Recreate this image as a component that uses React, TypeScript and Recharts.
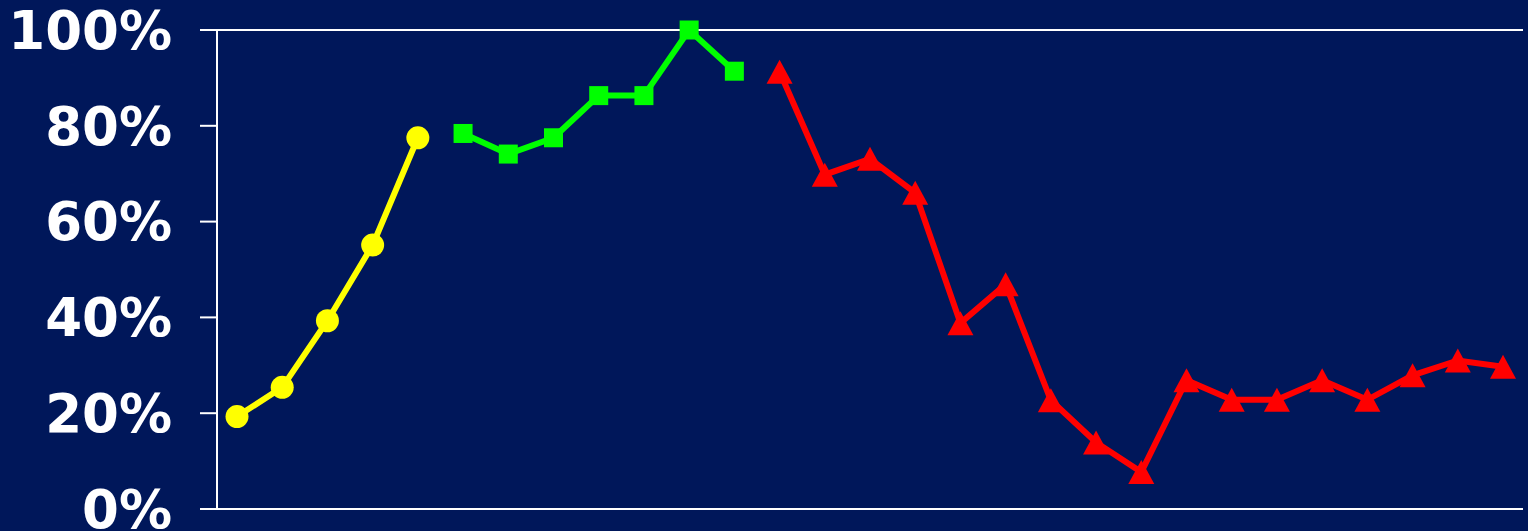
import React from "react";
import { LineChart, Line, XAxis, YAxis, CartesianGrid } from "recharts";

const categories = Array.from({ length: 29 }, (_, i) => String(i + 1));
const yellowValues: (number | null)[] = [19.3, 25.4, 39.3, 55.1, 77.5];
const greenValues: (number | null)[] = [78.4, 74.1, 77.5, 86.3, 86.3, 100, 91.4];
const redValues: (number | null)[] = [
  91.3, 69.8, 73.1, 66.0, 38.8, 46.9, 22.7, 13.9, 7.7, 26.9, 22.8, 22.8, 26.9, 22.8, 27.9, 31.0, 29.7,
];
const yTicks = [0, 20, 40, 60, 80, 100];

const data = categories.map((c, i) => ({
  cat: c,
  yellow: i < yellowValues.length ? yellowValues[i] : null,
  green:
    i >= yellowValues.length && i < yellowValues.length + greenValues.length
      ? greenValues[i - yellowValues.length]
      : null,
  red:
    i >= yellowValues.length + greenValues.length
      ? redValues[i - yellowValues.length - greenValues.length]
      : null,
}));

const BG = "#00175A";

const CircleDot = (props: any) => {
  const { cx, cy, value } = props;
  if (value == null || cx == null || cy == null) return <g />;
  return <circle cx={cx} cy={cy} r={11.5} fill="#FFFF00" />;
};

const SquareDot = (props: any) => {
  const { cx, cy, value } = props;
  if (value == null || cx == null || cy == null) return <g />;
  return <rect x={cx - 9.5} y={cy - 9.5} width={19} height={19} fill="#00FF00" />;
};

const TriangleDot = (props: any) => {
  const { cx, cy, value } = props;
  if (value == null || cx == null || cy == null) return <g />;
  const w = 13;
  const h = 12;
  return (
    <polygon
      points={`${cx},${cy - h} ${cx + w},${cy + h} ${cx - w},${cy + h}`}
      fill="#FF0000"
    />
  );
};

export default function App() {
  return (
    <div
      style={{
        position: "fixed",
        left: 0,
        top: 0,
        width: 1528,
        height: 531,
        background: BG,
      }}
    >
      <LineChart
        width={1528}
        height={531}
        data={data}
        margin={{ top: 30, right: 5, bottom: 22, left: 0 }}
      >
        <CartesianGrid horizontal={true} vertical={false} stroke="#FFFFFF" strokeWidth={2} />
        <XAxis dataKey="cat" hide padding={{ left: 20, right: 20 }} />
        <YAxis
          yAxisId="left"
          domain={[0, 100]}
          ticks={yTicks}
          width={217}
          tickSize={17}
          tickMargin={28}
          axisLine={{ stroke: "#FFFFFF", strokeWidth: 2 }}
          tickLine={{ stroke: "#FFFFFF", strokeWidth: 2 }}
          tickFormatter={(v: number) => `${v}%`}
          tick={{
            fill: "#FFFFFF",
            fontSize: 53,
            fontWeight: "bold",
            fontFamily: "DejaVu Sans",
          }}
          interval={0}
        />
        <YAxis
          yAxisId="right"
          orientation="right"
          domain={[0, 100]}
          width={0}
          tick={false}
          tickLine={false}
          axisLine={{ stroke: "#FFFFFF", strokeWidth: 2 }}
        />
        <Line
          yAxisId="left"
          dataKey="yellow"
          stroke="#FFFF00"
          strokeWidth={6}
          dot={<CircleDot />}
          activeDot={false}
          isAnimationActive={false}
          connectNulls={false}
        />
        <Line
          yAxisId="left"
          dataKey="green"
          stroke="#00FF00"
          strokeWidth={6}
          dot={<SquareDot />}
          activeDot={false}
          isAnimationActive={false}
          connectNulls={false}
        />
        <Line
          yAxisId="left"
          dataKey="red"
          stroke="#FF0000"
          strokeWidth={6}
          dot={<TriangleDot />}
          activeDot={false}
          isAnimationActive={false}
          connectNulls={false}
        />
      </LineChart>
    </div>
  );
}
